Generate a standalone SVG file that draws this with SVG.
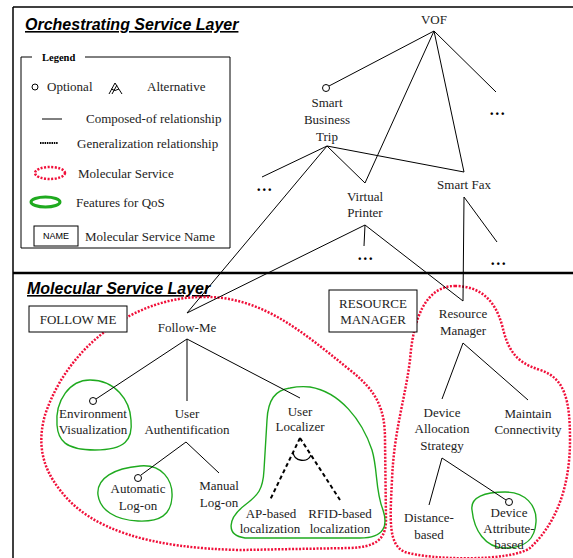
<svg xmlns="http://www.w3.org/2000/svg" width="573" height="558" viewBox="0 0 573 558">
<style>
.t{font-family:"Liberation Serif","Times New Roman",serif;font-size:13px;fill:#222;text-anchor:middle}
.tl{font-family:"Liberation Serif","Times New Roman",serif;font-size:13px;fill:#222}
.h{font-family:"Liberation Sans",Arial,sans-serif;font-size:16px;font-weight:bold;font-style:italic;fill:#000;text-decoration:underline}
.dots{font-family:"Liberation Serif",serif;font-size:16px;font-weight:bold;fill:#000;text-anchor:middle;letter-spacing:1.5px}
.ln{stroke:#000;stroke-width:1;fill:none}
.gen{stroke:#000;stroke-width:2;stroke-dasharray:4 3;fill:none}
.opt{stroke:#000;stroke-width:1;fill:#fff}
.red{stroke:#f0103a;stroke-width:2.5;stroke-dasharray:2 1.5;fill:none}
.grn{stroke:#1faa1f;stroke-width:1.4;fill:none}
.box{stroke:#000;stroke-width:1;fill:#fff}
</style>
<rect width="573" height="558" fill="#fff"/>
<g id="frame">
<line x1="13" y1="7" x2="573" y2="7" stroke="#000" stroke-width="1.5"/>
<line x1="13" y1="7" x2="13" y2="558" stroke="#000" stroke-width="1.5"/>
<line x1="13" y1="273" x2="573" y2="273" stroke="#000" stroke-width="2.5"/>
<text class="h" x="25" y="30">Orchestrating Service Layer</text>
<text class="h" x="27" y="294">Molecular Service Layer</text>
</g>
<g id="legend">
<path d="M32,57 L21,57 L21,248 L230,248 L230,57 L85,57" class="ln"/>
<text x="42" y="61" font-family="Liberation Serif,serif" font-size="10.5" font-weight="bold" fill="#000">Legend</text>
<circle cx="35" cy="87" r="3" class="opt"/>
<text class="tl" x="47" y="91">Optional</text>
<path d="M109,94 L115,83 L122,94 M112,94 L117,85 M111,89 Q115,92 119,89" class="ln"/>
<text class="tl" x="147" y="91">Alternative</text>
<line x1="42" y1="119" x2="62" y2="119" class="ln"/>
<text class="tl" x="86" y="123">Composed-of relationship</text>
<line x1="40" y1="143" x2="58" y2="143" stroke="#000" stroke-width="2" stroke-dasharray="1.5 0.8"/>
<text class="tl" x="77" y="148">Generalization relationship</text>
<ellipse cx="50" cy="173" rx="15" ry="6" class="red" stroke-width="3"/>
<text class="tl" x="78" y="178">Molecular Service</text>
<ellipse cx="45.5" cy="202" rx="14.5" ry="5" stroke="#1faa1f" stroke-width="3" fill="none"/>
<text class="tl" x="76" y="207">Features for QoS</text>
<rect x="34" y="226" width="44" height="20" class="box"/>
<text x="56" y="239" font-family="Liberation Sans,Arial,sans-serif" font-size="9" fill="#000" text-anchor="middle">NAME</text>
<text class="tl" x="85" y="241">Molecular Service Name</text>
</g>
<g id="regions">
<path class="red" d="M200,297 C260,295 300,330 350,370 C378,392 385,410 385,440 L386,520 C386,540 375,547 350,548 L240,550 C150,548 90,530 60,490 C40,465 38,440 45,415 C70,340 140,298 200,297 Z"/>
<path class="red" d="M455,286 C480,286 495,300 502,325 C508,350 515,362 540,370 C565,378 570,400 570,440 C570,480 560,520 530,548 C510,562 430,560 405,552 C388,545 390,520 392,480 C394,430 405,400 410,360 C413,320 425,286 455,286 Z"/>
<path class="grn" d="M57,425 C55,400 70,380 90,380 C115,380 130,400 131,420 C133,440 125,450 95,450 C65,450 58,440 57,425 Z"/>
<path class="grn" d="M98,495 C96,478 115,468 140,466 C162,464 173,480 172,497 C171,515 160,522 138,521 C115,520 100,510 98,495 Z"/>
<path class="grn" d="M290,388 C275,390 268,400 267,420 L264,470 C263,490 258,495 245,505 C228,518 225,535 245,538 L360,538 C385,538 388,525 383,510 C375,490 378,470 372,450 C362,420 340,392 310,387 C300,386 295,387 290,388 Z"/>
<path class="grn" d="M472,510 C470,497 485,492 505,492 C525,492 537,505 536,522 C535,540 525,548 505,548 C485,548 474,530 472,510 Z"/>
</g>
<g id="connectors">
<line x1="434" y1="31" x2="329" y2="86" class="ln"/>
<line x1="434" y1="31" x2="365" y2="183" class="ln"/>
<line x1="434" y1="31" x2="464" y2="172" class="ln"/>
<line x1="434" y1="31" x2="496" y2="92" class="ln"/>
<line x1="327" y1="146" x2="262" y2="177" class="ln"/>
<line x1="327" y1="146" x2="365" y2="183" class="ln"/>
<line x1="327" y1="146" x2="464" y2="172" class="ln"/>
<line x1="327" y1="146" x2="187" y2="313" class="ln"/>
<line x1="365" y1="225" x2="187" y2="313" class="ln"/>
<line x1="365" y1="225" x2="364" y2="246" class="ln"/>
<line x1="365" y1="225" x2="463" y2="301" class="ln"/>
<line x1="464" y1="197" x2="463" y2="301" class="ln"/>
<line x1="464" y1="197" x2="497" y2="242" class="ln"/>
<line x1="187" y1="339" x2="96" y2="399" class="ln"/>
<line x1="187" y1="339" x2="187" y2="401" class="ln"/>
<line x1="187" y1="339" x2="300" y2="398" class="ln"/>
<line x1="186" y1="442" x2="141" y2="475" class="ln"/>
<line x1="186" y1="442" x2="219" y2="473" class="ln"/>
<line x1="300" y1="438" x2="270" y2="500" class="gen"/>
<line x1="300" y1="438" x2="340" y2="500" class="gen"/>
<path d="M293,452 C294,462 308,463 311,455" stroke="#000" stroke-width="1.3" fill="none"/>
<line x1="463" y1="343" x2="442" y2="399" class="ln"/>
<line x1="463" y1="343" x2="528" y2="400" class="ln"/>
<line x1="442" y1="458" x2="429" y2="505" class="ln"/>
<line x1="442" y1="458" x2="506" y2="500" class="ln"/>
</g>
<g id="n-vof"><text class="t" x="434" y="24">VOF</text></g>
<g id="n-sbt"><circle cx="326" cy="88" r="3.5" class="opt"/><text class="t" x="327" y="107">Smart</text><text class="t" x="327" y="124">Business</text><text class="t" x="327" y="141">Trip</text></g>
<g id="n-vp"><text class="t" x="365" y="201">Virtual</text><text class="t" x="365" y="217">Printer</text></g>
<g id="n-sf"><text class="t" x="464" y="189">Smart Fax</text></g>
<g id="n-dots1"><text class="dots" x="498" y="115">...</text></g>
<g id="n-dots2"><text class="dots" x="265" y="191">...</text></g>
<g id="n-dots3"><text class="dots" x="366" y="260">...</text></g>
<g id="n-dots4"><text class="dots" x="499" y="265">...</text></g>
<g id="n-followme-box"><rect x="29" y="306" width="98" height="26" class="box"/><text class="t" x="78" y="324">FOLLOW ME</text></g>
<g id="n-rm-box"><rect x="329" y="290" width="88" height="42" class="box"/><text class="t" x="373" y="308">RESOURCE</text><text class="t" x="373" y="324">MANAGER</text></g>
<g id="n-followme"><text class="t" x="187" y="332">Follow-Me</text></g>
<g id="n-env"><circle cx="93" cy="401" r="3.5" class="opt"/><text class="t" x="93" y="418">Environment</text><text class="t" x="93" y="434">Visualization</text></g>
<g id="n-ua"><text class="t" x="187" y="418">User</text><text class="t" x="187" y="434">Authentification</text></g>
<g id="n-ul"><text class="t" x="300" y="416">User</text><text class="t" x="300" y="431">Localizer</text></g>
<g id="n-auto"><circle cx="138" cy="478" r="3.5" class="opt"/><text class="t" x="138" y="493">Automatic</text><text class="t" x="138" y="510">Log-on</text></g>
<g id="n-manual"><text class="t" x="219" y="490">Manual</text><text class="t" x="219" y="507">Log-on</text></g>
<g id="n-ap"><text class="t" x="271" y="518">AP-based</text><text class="t" x="270" y="533">localization</text></g>
<g id="n-rfid"><text class="t" x="340" y="518">RFID-based</text><text class="t" x="340" y="533">localization</text></g>
<g id="n-rm"><text class="t" x="463" y="318">Resource</text><text class="t" x="463" y="335">Manager</text></g>
<g id="n-das"><text class="t" x="442" y="417">Device</text><text class="t" x="442" y="433">Allocation</text><text class="t" x="442" y="450">Strategy</text></g>
<g id="n-mc"><text class="t" x="528" y="418">Maintain</text><text class="t" x="528" y="434">Connectivity</text></g>
<g id="n-dist"><text class="t" x="429" y="522">Distance-</text><text class="t" x="429" y="539">based</text></g>
<g id="n-dab"><circle cx="509" cy="502" r="3.5" class="opt"/><text class="t" x="509" y="517">Device</text><text class="t" x="509" y="533">Attribute-</text><text class="t" x="509" y="549">based</text></g>
</svg>
